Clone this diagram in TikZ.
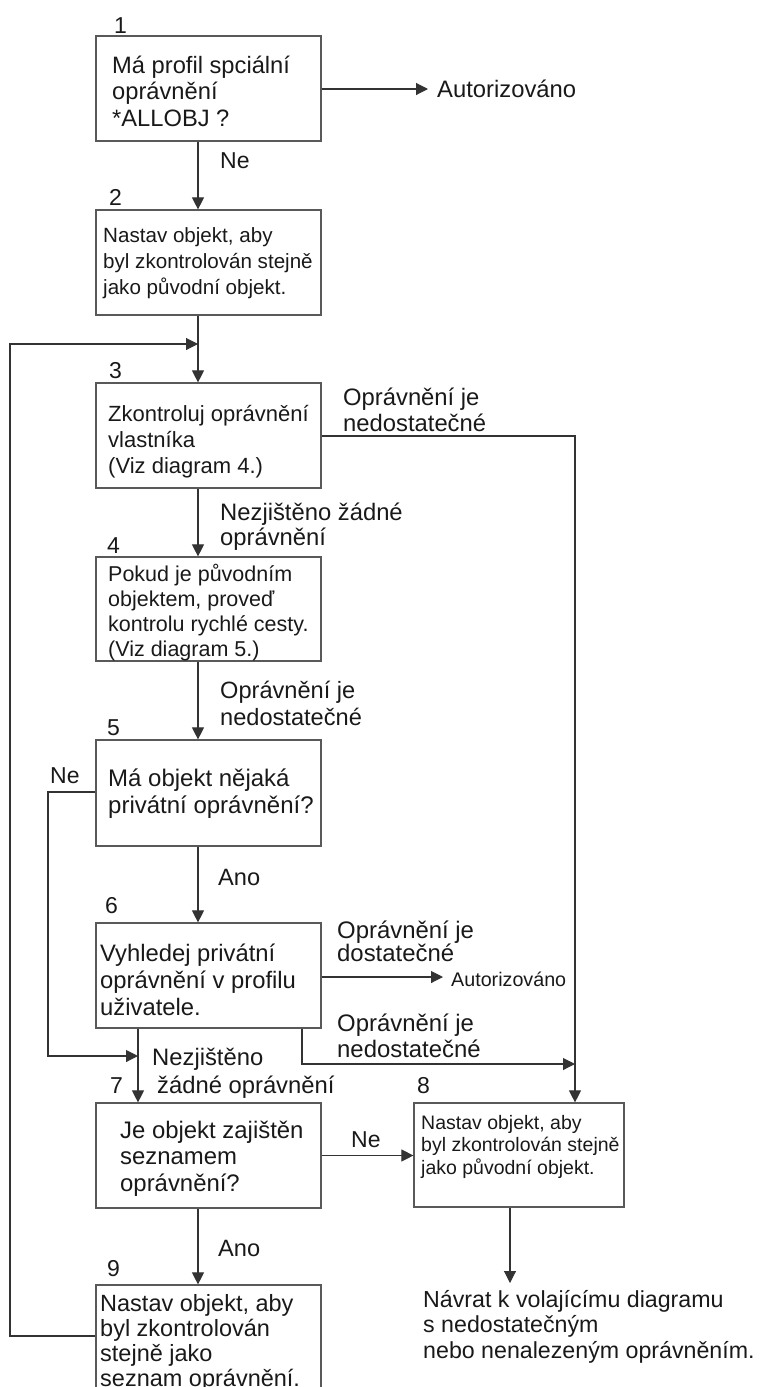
\documentclass[tikz,border=0pt]{standalone}
\usepackage{fontspec}
\setmainfont{Liberation Sans}
\usetikzlibrary{arrows.meta}
\definecolor{boxc}{gray}{0.35}
\definecolor{lnc}{gray}{0.2}
\definecolor{txtc}{gray}{0.1}
\newcommand\fsz[2]{\fontsize{#1}{#2}\selectfont}
\begin{document}
\begin{tikzpicture}[x=1pt,y=-1pt,
  box/.style={draw=boxc, line width=1.2pt, rectangle, inner sep=0pt,
              minimum width=225pt, minimum height=105pt},
  lbl/.style={inner sep=0pt, anchor=base west, align=left, text=txtc},
  num/.style={inner sep=0pt, anchor=base west, text=txtc, font=\fsz{23}{23}},
  conn/.style={draw=lnc, line width=1.1pt},
  arr/.style={conn, -{Triangle[length=12pt,width=12pt]}}]
\useasboundingbox (0,0) rectangle (760,1387);
\clip (0,0) rectangle (760,1387);

% boxes
\node[box] (b1) at (208.5,88.5) {};
\node[box] (b2) at (208.5,262.5) {};
\node[box] (b3) at (208.5,435.5) {};
\node[box, minimum height=104pt] (b4) at (208.5,609) {};
\node[box, minimum height=106pt] (b5) at (208.5,793) {};
\node[box] (b6) at (208.5,975.5) {};
\node[box] (b7) at (208.5,1155.5) {};
\node[box, minimum width=210pt, minimum height=104pt] (b8) at (519,1155) {};
\node[box, minimum height=120pt] (b9) at (208.5,1345) {};

% step numbers
\node[num] (n1) at (114,33) {1};
\node[num] (n2) at (109,205) {2};
\node[num] (n3) at (109,378) {3};
\node[num] (n4) at (107,553) {4};
\node[num] (n5) at (107,735) {5};
\node[num] (n6) at (105,913) {6};
\node[num] (n7) at (110,1093) {7};
\node[num] (n8) at (417,1093) {8};
\node[num] (n9) at (107,1276) {9};

% box texts (each placed by the baseline of its last line)
\node[lbl, font=\fsz{23.7}{26.5}] (t1) at (112,126)
  {Má profil spciální\\oprávnění\\*ALLOBJ ?};
\node[lbl, font=\fsz{20.6}{26}] (t2) at (103,294)
  {Nastav objekt, aby\\byl zkontrolován stejně\\jako původní objekt.};
\node[lbl, font=\fsz{22}{26}] (t3) at (108,473)
  {Zkontroluj oprávnění\\vlastníka\\(Viz diagram 4.)};
\node[lbl, font=\fsz{21.5}{25}] (t4) at (108,656)
  {Pokud je původním\\objektem, proveď\\kontrolu rychlé cesty.\\(Viz diagram 5.)};
\node[lbl, font=\fsz{24}{27}] (t5) at (108,813)
  {Má objekt nějaká\\privátní oprávnění?};
\node[lbl, font=\fsz{23.8}{27}] (t6) at (100,1015)
  {Vyhledej privátní\\oprávnění v profilu\\uživatele.};
\node[lbl, font=\fsz{23.9}{26.5}] (t7) at (120,1191)
  {Je objekt zajištěn\\seznamem\\oprávnění?};
\node[lbl, font=\fsz{19.5}{22.5}] (t8) at (421,1174)
  {Nastav objekt, aby\\byl zkontrolován stejně\\jako původní objekt.};
\node[lbl, font=\fsz{23.5}{25}] (t9) at (100,1386)
  {Nastav objekt, aby\\byl zkontrolován\\stejně jako\\seznam oprávnění.};

% connector labels and outcomes
\node[lbl, font=\fsz{23.8}{26}] (auth1) at (437,97) {Autorizováno};
\node[lbl, font=\fsz{23}{26}] (ne1) at (220,168) {Ne};
\node[lbl, font=\fsz{23.8}{26}] (l3) at (343,431) {Oprávnění je\\nedostatečné};
\node[lbl, font=\fsz{23.8}{25}] (l34) at (220,545) {Nezjištěno žádné\\oprávnění};
\node[lbl, font=\fsz{23.6}{27}] (l45) at (220,725) {Oprávnění je\\nedostatečné};
\node[lbl, font=\fsz{23}{26}] (ne5) at (50,783) {Ne};
\node[lbl, font=\fsz{23.6}{26}] (ano5) at (218,885) {Ano};
\node[lbl, font=\fsz{23.9}{23.5}] (l6a) at (337,961.5) {Oprávnění je\\dostatečné};
\node[lbl, font=\fsz{19.7}{22}] (auth2) at (451,986) {Autorizováno};
\node[lbl, font=\fsz{23.9}{26}] (l6b) at (337,1057) {Oprávnění je\\nedostatečné};
\node[lbl, font=\fsz{23.8}{26}] (nz1) at (152,1065) {Nezjištěno};
\node[lbl, font=\fsz{23.8}{26}] (nz2) at (157,1093) {žádné oprávnění};
\node[lbl, font=\fsz{23}{26}] (ne7) at (351,1147) {Ne};
\node[lbl, font=\fsz{23.6}{26}] (ano7) at (218,1256) {Ano};
\node[lbl, font=\fsz{23.2}{25.5}] (ret) at (423,1358)
  {Návrat k volajícímu diagramu\\s nedostatečným\\nebo nenalezeným oprávněním.};

% routing points
\coordinate (cx) at (198,0);
\coordinate (lp) at (10,0);
\coordinate (loopy) at (0,1336);
\coordinate (j3) at (198,344);
\coordinate (rx) at (575,0);
\coordinate (r3) at (0,436);
\coordinate (r1) at (0,89);
\coordinate (ny) at (0,792);
\coordinate (nx) at (48,0);
\coordinate (j7) at (138,1056);
\coordinate (c7) at (138,0);
\coordinate (a6) at (0,977);
\coordinate (c6r) at (302,1064);
\coordinate (c8) at (510,1283);

% connectors
\draw[arr, shorten >=9pt] (r1 -| b1.east) -- (r1 -| auth1.west);
\draw[arr] (b1.south -| cx) -- (b2.north -| cx);
\draw[arr] (b2.south -| cx) -- (b3.north -| cx);
\draw[arr] (loopy -| b9.west) -- (loopy -| lp) -- (j3 -| lp) -- (j3);
\draw[arr] (r3 -| b3.east) -- (r3 -| rx) -- (b8.north -| rx);
\draw[arr] (b3.south -| cx) -- (b4.north -| cx);
\draw[arr] (b4.south -| cx) -- (b5.north -| cx);
\draw[arr] (ny -| b5.west) -- (ny -| nx) -- (j7 -| nx) -- (j7);
\draw[arr] (b5.south -| cx) -- (b6.north -| cx);
\draw[arr, shorten >=8pt] (a6 -| b6.east) -- (a6 -| auth2.west);
\draw[arr] (b6.south -| c7) -- (b7.north -| c7);
\draw[arr] (b6.south -| c6r) -- (c6r) -- (c6r -| rx);
\draw[arr] (b7.east) -- (b7.east -| b8.west);
\draw[arr] (b7.south -| cx) -- (b9.north -| cx);
\draw[arr] (b8.south -| c8) -- (c8);
\end{tikzpicture}
\end{document}
